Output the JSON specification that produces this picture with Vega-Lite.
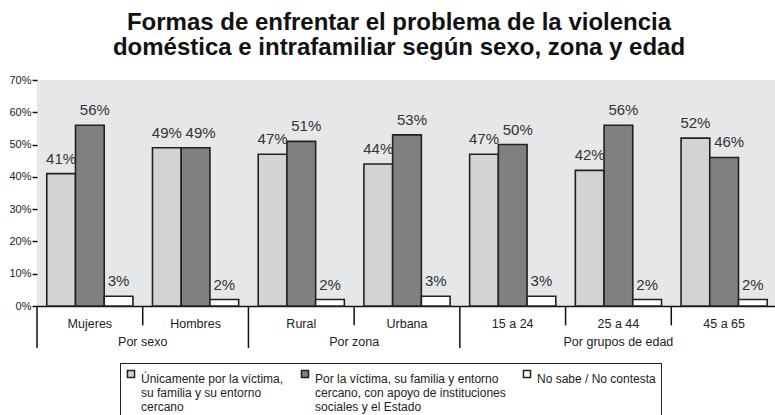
{
  "$schema": "https://vega.github.io/schema/vega-lite/v6.json",
  "width": 740,
  "height": 226,
  "autosize": "none",
  "padding": {"left": 37, "top": 80, "right": 0, "bottom": 109},
  "background": "white",
  "config": {
    "font": "Liberation Sans",
    "view": {"fill": "#e6e7e9", "stroke": null},
    "axisY": {
      "title": null, "values": [0, 0.1, 0.2, 0.3, 0.4, 0.5, 0.6, 0.7], "format": ".0%",
      "labelOverlap": false, "labelFlush": false,
      "domain": false, "grid": false, "tickSize": 5, "tickColor": "#111111", "tickWidth": 1.5,
      "labelPadding": 1, "labelFontSize": 11, "labelColor": "#222222"
    }
  },
  "title": {
    "text": ["Formas de enfrentar el problema de la  violencia", "doméstica e intrafamiliar según sexo, zona y edad"],
    "anchor": "middle",
    "font": "Liberation Sans",
    "fontSize": 24,
    "fontWeight": "bold",
    "color": "#111111",
    "lineHeight": 25,
    "offset": 14,
    "dx": -8
  },
  "datasets": {
    "bars": [
      {"cat": "Mujeres", "serie": "A", "val": 0.41},
      {"cat": "Mujeres", "serie": "B", "val": 0.56},
      {"cat": "Mujeres", "serie": "C", "val": 0.03},
      {"cat": "Hombres", "serie": "A", "val": 0.49},
      {"cat": "Hombres", "serie": "B", "val": 0.49},
      {"cat": "Hombres", "serie": "C", "val": 0.02},
      {"cat": "Rural", "serie": "A", "val": 0.47},
      {"cat": "Rural", "serie": "B", "val": 0.51},
      {"cat": "Rural", "serie": "C", "val": 0.02},
      {"cat": "Urbana", "serie": "A", "val": 0.44},
      {"cat": "Urbana", "serie": "B", "val": 0.53},
      {"cat": "Urbana", "serie": "C", "val": 0.03},
      {"cat": "15 a 24", "serie": "A", "val": 0.47},
      {"cat": "15 a 24", "serie": "B", "val": 0.50},
      {"cat": "15 a 24", "serie": "C", "val": 0.03},
      {"cat": "25 a 44", "serie": "A", "val": 0.42},
      {"cat": "25 a 44", "serie": "B", "val": 0.56},
      {"cat": "25 a 44", "serie": "C", "val": 0.02},
      {"cat": "45 a 65", "serie": "A", "val": 0.52},
      {"cat": "45 a 65", "serie": "B", "val": 0.46},
      {"cat": "45 a 65", "serie": "C", "val": 0.02}
    ]
  },
  "layer": [
    {
      "data": {"name": "bars"},
      "mark": {"type": "bar", "stroke": "#222222", "strokeWidth": 1.6},
      "encoding": {
        "x": {
          "field": "cat", "type": "nominal",
          "scale": {"domain": ["Mujeres", "Hombres", "Rural", "Urbana", "15 a 24", "25 a 44", "45 a 65"], "paddingInner": 0, "paddingOuter": 0},
          "axis": {
            "title": null, "labelAngle": 0, "ticks": false, "labelPadding": 11,
            "labelFontSize": 12.5, "labelColor": "#222222",
            "domain": true, "domainColor": "#111111", "domainWidth": 1.5, "grid": false
          }
        },
        "xOffset": {"field": "serie", "type": "nominal", "scale": {"domain": ["A", "B", "C"], "paddingInner": 0, "paddingOuter": 0.34}},
        "y": {
          "field": "val", "type": "quantitative",
          "scale": {"domain": [0, 0.7], "nice": false}
        },
        "color": {
          "field": "serie", "type": "nominal",
          "scale": {"domain": ["A", "B", "C"], "range": ["#d3d3d4", "#808080", "#ffffff"]},
          "legend": {
            "title": null, "orient": "none", "legendX": 83, "legendY": 283,
            "direction": "horizontal", "columns": 3, "columnPadding": 14,
            "symbolType": "square", "symbolSize": 50, "symbolStrokeColor": "#222222", "symbolStrokeWidth": 1.5,
            "labelFontSize": 12, "labelColor": "#222222", "labelLimit": 300, "labelOffset": 4,
            "labelBaseline": "top",
            "strokeColor": "#222222", "fillColor": "#ffffff", "padding": 5,
            "labelExpr": "datum.label == 'A' ? ['Únicamente por la víctima,', 'su familia y su entorno', 'cercano'] : datum.label == 'B' ? ['Por la víctima, su familia y entorno', 'cercano, con apoyo de instituciones', 'sociales y el Estado'] : ['No sabe / No contesta', ' ', ' ']"
          }
        }
      }
    },
    {
      "data": {"name": "bars"},
      "transform": [{"filter": "datum.serie != 'B'"}],
      "mark": {"type": "text", "baseline": "alphabetic", "dy": -10, "fontSize": 15, "color": "#333333"},
      "encoding": {
        "x": {"field": "cat", "type": "nominal"},
        "xOffset": {"field": "serie", "type": "nominal"},
        "y": {"field": "val", "type": "quantitative"},
        "text": {"field": "val", "type": "quantitative", "format": ".0%"}
      }
    },
    {
      "data": {"name": "bars"},
      "transform": [{"filter": "datum.serie == 'B'"}],
      "mark": {"type": "text", "baseline": "alphabetic", "dy": -10, "dx": 5, "fontSize": 15, "color": "#333333"},
      "encoding": {
        "x": {"field": "cat", "type": "nominal"},
        "xOffset": {"field": "serie", "type": "nominal"},
        "y": {"field": "val", "type": "quantitative"},
        "text": {"field": "val", "type": "quantitative", "format": ".0%"}
      }
    },
    {
      "data": {"values": [{"cat": "Hombres"}, {"cat": "Urbana"}, {"cat": "25 a 44"}, {"cat": "45 a 65"}]},
      "mark": {"type": "rule", "color": "#111111", "strokeWidth": 1.5},
      "encoding": {
        "x": {"field": "cat", "type": "nominal", "bandPosition": 0},
        "y": {"datum": 0},
        "y2": {"datum": -0.06}
      }
    },
    {
      "data": {"values": [{"cat": "Mujeres"}, {"cat": "Rural"}, {"cat": "15 a 24"}]},
      "mark": {"type": "rule", "color": "#111111", "strokeWidth": 1.5},
      "encoding": {
        "x": {"field": "cat", "type": "nominal", "bandPosition": 0},
        "y": {"datum": 0},
        "y2": {"datum": -0.13}
      }
    },
    {
      "data": {"values": [{"cat": "Hombres", "grupo": "Por sexo"}, {"cat": "Urbana", "grupo": "Por zona"}]},
      "mark": {"type": "text", "baseline": "middle", "fontSize": 12.5, "color": "#222222"},
      "encoding": {
        "x": {"field": "cat", "type": "nominal", "bandPosition": 0},
        "y": {"datum": -0.111},
        "text": {"field": "grupo"}
      }
    },
    {
      "data": {"values": [{"cat": "25 a 44", "grupo": "Por grupos de edad"}]},
      "mark": {"type": "text", "baseline": "middle", "fontSize": 12.5, "color": "#222222"},
      "encoding": {
        "x": {"field": "cat", "type": "nominal", "bandPosition": 0.5},
        "y": {"datum": -0.111},
        "text": {"field": "grupo"}
      }
    }
  ]
}
